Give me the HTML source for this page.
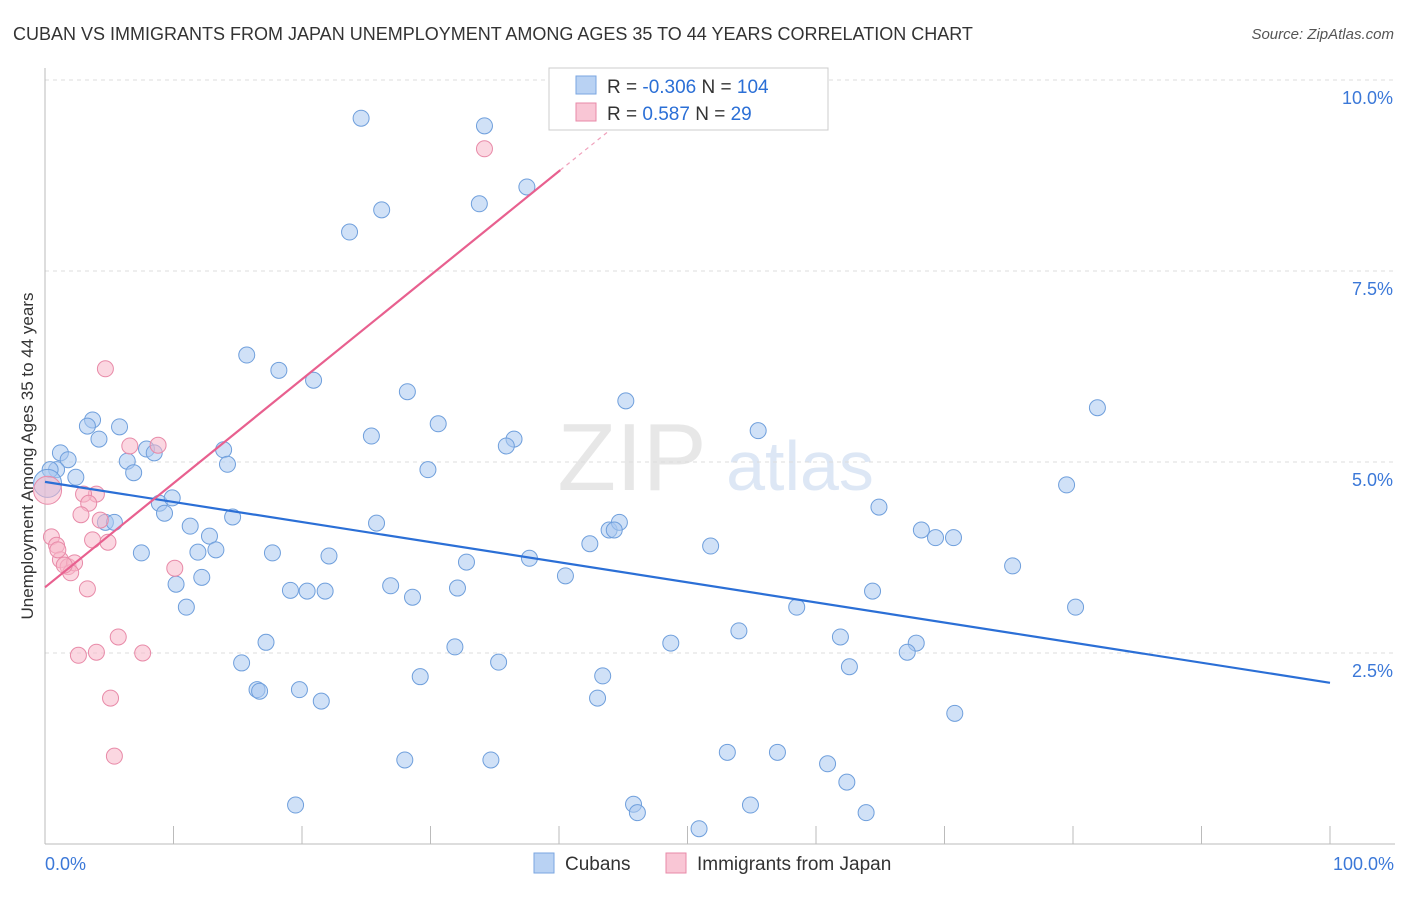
<!DOCTYPE html>
<html><head><meta charset="utf-8"><style>
body{margin:0;background:#fff;font-family:"Liberation Sans",sans-serif;}
svg text{font-family:"Liberation Sans",sans-serif;}
</style></head><body>
<svg id="chart" width="1406" height="892" viewBox="0 0 1406 892" xmlns="http://www.w3.org/2000/svg">
<text x="13" y="40" font-size="18" fill="#333">CUBAN VS IMMIGRANTS FROM JAPAN UNEMPLOYMENT AMONG AGES 35 TO 44 YEARS CORRELATION CHART</text>
<text x="1394" y="39" font-size="15" fill="#555" text-anchor="end" font-style="italic">Source: ZipAtlas.com</text>
<text transform="translate(33,456) rotate(-90)" font-size="17" fill="#333" text-anchor="middle">Unemployment Among Ages 35 to 44 years</text>
<g opacity="0.5">
<text x="632" y="490" font-size="96" fill="#d0d0d0" text-anchor="middle" font-family="Liberation Serif">ZIP</text>
<text x="800" y="490" font-size="70" fill="#bcd0ec" text-anchor="middle">atlas</text>
</g>
<g id="grid"></g><g id="axes"></g><g id="marks"></g><g id="trends"></g>
<g>
<rect x="549" y="68" width="279" height="62" fill="#fff" stroke="#ccc"/>
<rect x="576" y="76" width="20" height="18" fill="#b9d2f3" stroke="#7aa6e0"/>
<rect x="576" y="103" width="20" height="18" fill="#f9c6d5" stroke="#e88aa8"/>
<text x="607" y="93" font-size="19" fill="#333">R = <tspan fill="#2b6fd6">-0.306</tspan>   N = <tspan fill="#2b6fd6">104</tspan></text>
<text x="607" y="120" font-size="19" fill="#333">R =   <tspan fill="#2b6fd6">0.587</tspan>   N =   <tspan fill="#2b6fd6">29</tspan></text>
</g>
<g>
<rect x="534" y="853" width="20" height="20" fill="#b9d2f3" stroke="#7aa6e0"/>
<text x="565" y="870" font-size="19" fill="#333">Cubans</text>
<rect x="666" y="853" width="20" height="20" fill="#f9c6d5" stroke="#e88aa8"/>
<text x="697" y="870" font-size="19" fill="#333">Immigrants from Japan</text>
</g>
</svg>
<script>
const yTicks=[2.5,5,7.5,10];
const yTickLabels=["2.5%","5.0%","7.5%","10.0%"];
const xTickLabels=["0.0%","100.0%"];
const blueX=[24.6,34.2,33.8,37.5,26.2,23.7,15.7,18.2,20.9,28.2,45.2,81.9,30.6,25.4,36.5,35.9,55.5,3.7,3.3,5.8,4.2,1.2,1.8,0.9,2.4,6.4,6.9,7.9,8.5,13.9,14.2,29.8,79.5,8.9,9.9,9.3,11.3,12.8,14.6,4.7,5.4,25.8,64.9,68.2,69.3,70.7,43.9,44.7,44.3,42.4,51.8,7.5,11.9,13.3,17.7,22.1,32.8,37.7,75.3,12.2,10.2,11.0,19.1,20.4,21.8,26.9,28.6,32.1,40.5,64.4,58.5,80.2,17.2,15.3,31.9,35.3,48.7,54.0,61.9,67.8,67.1,62.6,16.5,16.7,19.8,21.5,29.2,43.4,43.0,70.8,53.1,57.0,28.0,34.7,60.9,62.4,19.5,45.8,54.9,46.1,63.9,50.9,0.4,0.2];
const blueY=[9.50,9.40,8.38,8.60,8.30,8.01,6.40,6.20,6.07,5.92,5.80,5.71,5.50,5.34,5.30,5.21,5.41,5.55,5.47,5.46,5.30,5.12,5.03,4.90,4.80,5.01,4.86,5.17,5.12,5.16,4.97,4.90,4.70,4.46,4.53,4.33,4.16,4.03,4.28,4.21,4.21,4.20,4.41,4.11,4.01,4.01,4.11,4.21,4.11,3.93,3.90,3.81,3.82,3.85,3.81,3.77,3.69,3.74,3.64,3.49,3.40,3.10,3.32,3.31,3.31,3.38,3.23,3.35,3.51,3.31,3.10,3.10,2.64,2.37,2.58,2.38,2.63,2.79,2.71,2.63,2.51,2.32,2.02,2.00,2.02,1.87,2.19,2.20,1.91,1.71,1.20,1.20,1.10,1.10,1.05,0.81,0.51,0.52,0.51,0.41,0.41,0.20,4.90,4.72];
const pinkX=[0.2,34.2,4.7,6.6,8.8,4.0,3.0,3.4,2.8,0.5,0.9,3.7,4.9,1.2,1.8,2.3,2.0,1.5,3.3,10.1,5.7,2.6,4.0,7.6,5.1,5.4,1.0,4.3];
const pinkY=[4.63,9.10,6.22,5.21,5.22,4.58,4.58,4.46,4.31,4.02,3.91,3.98,3.95,3.72,3.63,3.68,3.55,3.65,3.34,3.61,2.71,2.47,2.51,2.50,1.91,1.15,3.85,4.24];
const blueTrendX=[0,100], blueTrendY=[4.74,2.11];
const pinkTrendX=[0,40.1,46], pinkTrendY=[3.36,8.82,9.62];
const NS="http://www.w3.org/2000/svg";
const X=v=>45+v*12.85, Y=v=>844-v*76.4;
function mk(tag,attrs,parent){const e=document.createElementNS(NS,tag);for(const k in attrs)e.setAttribute(k,attrs[k]);parent.appendChild(e);return e;}
const grid=document.getElementById('grid'),axes=document.getElementById('axes'),marks=document.getElementById('marks'),trends=document.getElementById('trends');
yTicks.forEach((t,i)=>{
 const l=mk('line',{x1:45,x2:1395,y1:Y(t),y2:Y(t),stroke:'#ddd','stroke-dasharray':'4,4'},grid);
 
 
 const tx=mk('text',{x:1393,y:Y(t)+24,'font-size':18,fill:'#3b78d8','text-anchor':'end'},axes);
 tx.textContent=yTickLabels[i];
 
 
});
const ax=mk('line',{x1:45,x2:1395,y1:844,y2:844,stroke:'#bbb'},axes);


const ay=mk('line',{x1:45,x2:45,y1:68,y2:844,stroke:'#bbb'},axes);


for(let i=1;i<=10;i++){
 const t=mk('line',{x1:X(i*10),x2:X(i*10),y1:826,y2:844,stroke:'#bbb'},axes);
 
 
}
[[0,'start',45],[1,'end',1394]].forEach(([i,a,x])=>{
 const t=mk('text',{x:x,y:870,'font-size':18,fill:'#3b78d8','text-anchor':a},axes);
 t.textContent=xTickLabels[i];
 
 
});
blueX.forEach((v,i)=>{
 const big=i===blueX.length-1;
 const c=mk('circle',{cx:X(v),cy:Y(blueY[i]),r:big?14:8,fill:'#a9c8f0','fill-opacity':0.55,stroke:'#6f9fdc','stroke-width':1},marks);
 
 
});
pinkX.forEach((v,i)=>{
 const big=i===0;
 const c=mk('circle',{cx:X(v),cy:Y(pinkY[i]),r:big?14:8,fill:'#f7b6c8','fill-opacity':0.55,stroke:'#e88aa8','stroke-width':1},marks);
 
 
});
const bt=mk('line',{x1:X(blueTrendX[0]),y1:Y(blueTrendY[0]),x2:X(blueTrendX[1]),y2:Y(blueTrendY[1]),stroke:'#2b6fd6','stroke-width':2.2},trends);


const pt=mk('line',{x1:X(pinkTrendX[0]),y1:Y(pinkTrendY[0]),x2:X(pinkTrendX[1]),y2:Y(pinkTrendY[1]),stroke:'#e8608f','stroke-width':2.2},trends);


const pd=mk('line',{x1:X(pinkTrendX[1]),y1:Y(pinkTrendY[1]),x2:X(pinkTrendX[2]),y2:Y(pinkTrendY[2]),stroke:'#f0a0bb','stroke-width':1.2,'stroke-dasharray':'4,4'},trends);


</script>
</body></html>
